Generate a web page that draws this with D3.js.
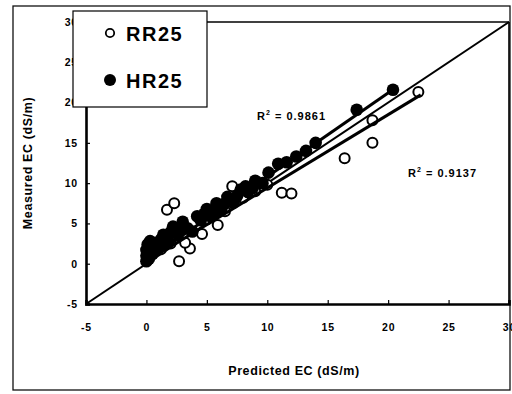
<!DOCTYPE html>
<html><head><meta charset="utf-8">
<script src="https://cdn.jsdelivr.net/npm/d3@7"></script>
<style>
html,body{margin:0;padding:0;background:#fff;}
svg{display:block;font-family:"Liberation Sans",Arial,sans-serif;}
</style></head>
<body>
<svg id="chart" width="512" height="394"></svg>
<script>
// ---- data ----
const xTicks = [-5, 0, 5, 10, 15, 20, 25, 30];
const yTicks = [-5, 0, 5, 10, 15, 20, 25, 30];
const seriesNames = ["RR25", "HR25"];
const rrX = [1.7, 2.3, 7.1, 5.9, 2.7, 3.6, 4.6, 11.2, 12.0, 16.4, 18.7, 18.7, 22.5, 0.2, 0.5, 1.2, 2.0, 3.0, 3.2, 5.0, 6.5, 8.0, 9.0, 10.0];
const rrY = [6.7, 7.5, 9.6, 4.8, 0.3, 1.9, 3.7, 8.8, 8.7, 13.1, 15.0, 17.8, 21.3, 0.8, 2.0, 1.8, 2.5, 3.5, 2.6, 5.5, 6.5, 8.2, 9.0, 9.8];
const hrX = [0, 0, 0, 0.1, 0.3, 0.5, 0.8, 1.2, 1.4, 1.8, 2.2, 2.6, 3.0, 3.4, 3.8, 4.2, 4.5, 5.0, 5.3, 5.8, 6.2, 6.7, 7.2, 7.8, 8.4, 9.0, 9.6, 10.1, 10.9, 11.6, 12.4, 13.2, 14.0, 17.4, 20.4,
             0.2, 0.6, 1.0, 1.6, 2.0, 2.8, 4.8, 5.6, 6.4, 7.5, 8.2, 8.8];
const hrY = [0.3, 1.0, 1.7, 2.4, 2.8, 1.2, 2.0, 3.0, 3.6, 2.6, 4.6, 3.6, 5.2, 4.4, 4.0, 5.9, 5.4, 6.8, 5.9, 7.5, 6.8, 8.3, 7.6, 9.2, 8.9, 10.3, 10.0, 11.3, 12.4, 12.6, 13.3, 14.0, 15.0, 19.1, 21.6,
             0.6, 2.6, 2.4, 3.2, 3.9, 4.2, 6.2, 6.4, 7.4, 8.4, 9.6, 9.4];
// regression fits: [slope, intercept, xStart, xEnd]
const rrFit = [0.91, 0.3, 0, 22.7];
const hrFit = [1.04, 0.4, 0, 20.5];
const r2Labels = ["0.9137", "0.9861"];
const oneToOne = [-5, 30];

// ---- chart ----
const svg = d3.select("#chart");
const x = d3.scaleLinear().domain([-5, 30]).range([86, 509]);
const y = d3.scaleLinear().domain([-5, 30]).range([304, 22]);

// outer frame
svg.append("rect").attr("x", 13).attr("y", 6).attr("width", 497).attr("height", 384)
  .attr("fill", "none").attr("stroke", "#111").attr("stroke-width", 1.3);

// plot frame (top & right)
svg.append("line").attr("x1", x(-5)).attr("x2", x(30)).attr("y1", y(30)).attr("y2", y(30))
  .attr("stroke", "#000").attr("stroke-width", 1.6);
svg.append("line").attr("x1", x(30)).attr("x2", x(30)).attr("y1", y(30)).attr("y2", y(-5))
  .attr("stroke", "#000").attr("stroke-width", 1.6);

// axes
const fmt = d => String(d);
const xAxis = d3.axisBottom(x).tickValues(xTicks).tickSize(-4).tickPadding(20).tickFormat(fmt);
const yAxis = d3.axisLeft(y).tickValues(yTicks).tickSize(-4).tickPadding(8).tickFormat(fmt);
const gx = svg.append("g").attr("transform", `translate(0,${y(-5)})`).call(xAxis);
const gy = svg.append("g").attr("transform", `translate(${x(-5)},0)`).call(yAxis);
[gx, gy].forEach(g => {
  g.select(".domain").attr("stroke", "#000").attr("stroke-width", 2.6);
  g.selectAll(".tick line").attr("stroke", "#000").attr("stroke-width", 1.2);
  g.selectAll(".tick text").attr("fill", "#000").attr("font-size", "10.5px")
    .attr("font-weight", "bold").attr("letter-spacing", "0.8px")
    .attr("font-family", "'Liberation Sans',Arial,sans-serif");
});

// 1:1 line
svg.append("line").attr("x1", x(oneToOne[0])).attr("y1", y(oneToOne[0]))
  .attr("x2", x(oneToOne[1])).attr("y2", y(oneToOne[1]))
  .attr("stroke", "#000").attr("stroke-width", 2);

// points
const rr = rrX.map((v, i) => [v, rrY[i]]);
const hr = hrX.map((v, i) => [v, hrY[i]]);
svg.append("g").selectAll("circle").data(rr).join("circle")
  .attr("cx", d => x(d[0])).attr("cy", d => y(d[1])).attr("r", 5)
  .attr("fill", "#fff").attr("stroke", "#000").attr("stroke-width", 2);

// regression lines
[rrFit, hrFit].forEach(f => {
  svg.append("line")
    .attr("x1", x(f[2])).attr("y1", y(f[0] * f[2] + f[1]))
    .attr("x2", x(f[3])).attr("y2", y(f[0] * f[3] + f[1]))
    .attr("stroke", "#000").attr("stroke-width", 3);
});

svg.append("g").selectAll("circle").data(hr).join("circle")
  .attr("cx", d => x(d[0])).attr("cy", d => y(d[1])).attr("r", 6.3)
  .attr("fill", "#000");

// R2 labels
const r2pos = [[408, 177], [257, 120]];
r2Labels.forEach((lab, i) => {
  const t = svg.append("text").attr("x", r2pos[i][0]).attr("y", r2pos[i][1])
    .attr("font-size", "11px").attr("font-weight", "bold").attr("letter-spacing", "1px");
  t.append("tspan").text("R");
  t.append("tspan").attr("font-size", "7px").attr("dy", -5).text("2");
  t.append("tspan").attr("dy", 5).text(" = " + lab);
});

// axis titles
svg.append("text").attr("x", 294).attr("y", 375).attr("text-anchor", "middle")
  .attr("font-size", "12.5px").attr("font-weight", "bold").attr("letter-spacing", "0.6px")
  .text("Predicted EC (dS/m)");
svg.append("text").attr("transform", "translate(32,163) rotate(-90)").attr("text-anchor", "middle")
  .attr("font-size", "12.5px").attr("font-weight", "bold").attr("letter-spacing", "0.6px")
  .text("Measured EC (dS/m)");

// legend
const lg = svg.append("g");
lg.append("rect").attr("x", 73).attr("y", 11).attr("width", 134).attr("height", 96)
  .attr("fill", "#fff").attr("stroke", "#000").attr("stroke-width", 1.2);
lg.append("circle").attr("cx", 110).attr("cy", 33).attr("r", 4.2)
  .attr("fill", "#fff").attr("stroke", "#000").attr("stroke-width", 1.8);
lg.append("circle").attr("cx", 110).attr("cy", 80).attr("r", 6).attr("fill", "#000");
lg.selectAll("text.leg").data(seriesNames).join("text").attr("class", "leg")
  .attr("x", 126).attr("y", (d, i) => 41 + i * 47)
  .attr("font-size", "20px").attr("font-weight", "bold").attr("letter-spacing", "1.5px")
  .text(d => d);
</script>
</body></html>
